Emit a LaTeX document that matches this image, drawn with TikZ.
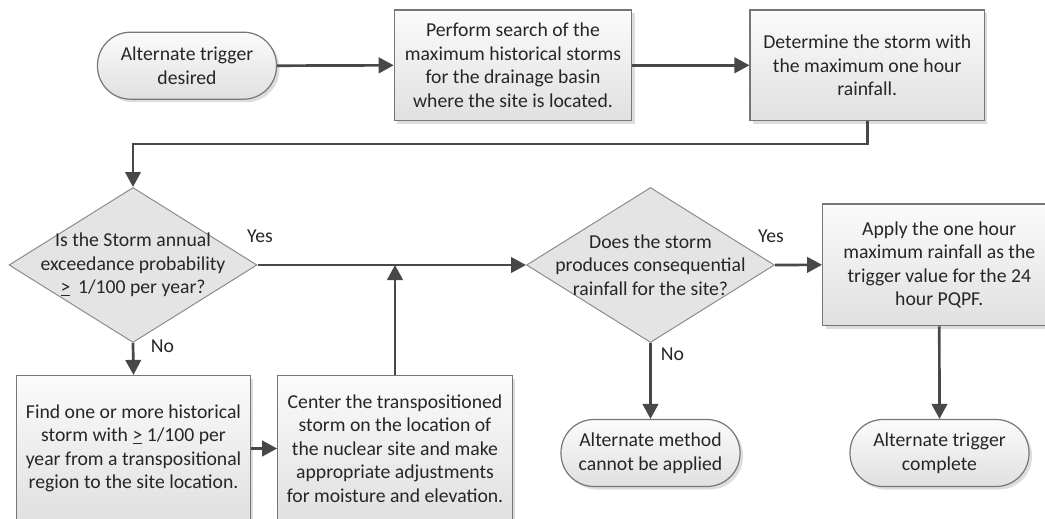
\documentclass[tikz,border=0pt]{standalone}
\usepackage{fontspec}
\setmainfont{Carlito}
\usetikzlibrary{arrows.meta,shadows,calc,shapes.geometric}
\definecolor{bd}{HTML}{767676}
\definecolor{ar}{HTML}{484848}
\definecolor{dfill}{HTML}{E4E4E4}
\definecolor{dbd}{HTML}{8C8C8C}
\definecolor{tx}{HTML}{262626}
\definecolor{gtop}{HTML}{FBFBFB}
\definecolor{gbot}{HTML}{E0E0E0}
\tikzset{
  base/.style={font=\fontsize{19.7}{23.5}\selectfont, text=tx, align=center, inner sep=0pt},
  procbox/.style={base, rectangle, draw=bd, line width=1.2pt, top color=gtop, bottom color=gbot,
     drop shadow={shadow xshift=3pt, shadow yshift=-3pt, fill=black!22, opacity=0.6}},
  pill/.style={base, rectangle, rounded corners=33pt, draw=bd, line width=1.2pt, top color=gtop, bottom color=gbot,
     minimum width=179pt, minimum height=67pt,
     drop shadow={shadow xshift=3pt, shadow yshift=-3pt, fill=black!22, opacity=0.6}},
  dia/.style={diamond, draw=dbd, line width=1pt, fill=dfill, inner sep=0pt, minimum width=248pt, minimum height=155pt},
  dtext/.style={base},
  arr/.style={draw=ar, line width=2.7pt, -{Triangle[length=15pt,width=15.5pt]}},
  lbl/.style={base}
}
\begin{document}
\begin{tikzpicture}[x=1pt,y=-1pt]
\useasboundingbox (0,0) rectangle (1045,519);
% top row
\node[pill] (p1) at (187,65.7) {Alternate trigger\\desired};
\node[procbox, minimum width=237.4pt, minimum height=110.7pt] (b2) at (513,65.3)
  {Perform search of the\\maximum historical storms\\for the drainage basin\\where the site is located.};
\node[procbox, minimum width=234.3pt, minimum height=110.7pt] (b3) at (867.2,65.3)
  {Determine the storm with\\the maximum one hour\\rainfall.};
% diamonds
\node[dia] (d1) at (133,265) {};
\node[dtext] (d1t) at (d1.center) {Is the Storm annual\\exceedance probability\\\underline{>}\, 1/100 per year?};
\node[dia] (d2) at (650.5,265) {};
\node[dtext] (d2t) at (d2.center) {Does the storm\\produces consequential\\rainfall for the site?};
% apply box
\node[procbox, minimum width=233.3pt, minimum height=121.7pt] (ap) at (939.3,264.8)
  {Apply the one hour\\maximum rainfall as the\\trigger value for the 24\\hour PQPF.};
% bottom boxes
\node[procbox, minimum width=233.6pt, minimum height=146pt] (fd) at (133.5,448.5)
  {Find one or more historical\\storm with \underline{>} 1/100 per\\year from a transpositional\\region to the site location.};
\node[procbox, minimum width=234.6pt, minimum height=146pt] (ct) at (395,448.5)
  {Center the transpositioned\\storm on the location of\\the nuclear site and make\\appropriate adjustments\\for moisture and elevation.};
% end pills
\node[pill] (p2) at (650.5,453) {Alternate method\\cannot be applied};
\node[pill] (p3) at (939.5,453) {Alternate trigger\\complete};
% connectors
\draw[arr] (p1.east) -- (b2.west);
\draw[arr] (b2.east) -- (b3.west);
\draw[arr] (b3.south) -- ++(0,22.6) -| (d1.north);
\draw[arr] (d1.east) -- (d2.west);
\draw[arr] (d1.south) -- (fd.north);
\draw[arr] (fd.east) -- (ct.west);
\draw[arr] (ct.north) -- (ct.north |- d1.east);
\draw[arr] (d2.east) -- (ap.west);
\draw[arr] (d2.south) -- (p2.north);
\draw[arr] (ap.south) -- (p3.north);
% labels
\node[lbl] (y1) at (260,236) {Yes};
\node[lbl] (n1) at (162.5,346) {No};
\node[lbl] (y2) at (771,236) {Yes};
\node[lbl] (n2) at (672.5,354) {No};
\end{tikzpicture}
\end{document}
